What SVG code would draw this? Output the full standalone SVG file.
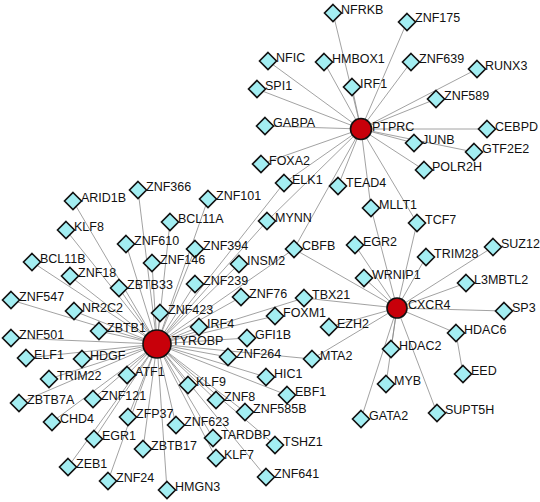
<svg xmlns="http://www.w3.org/2000/svg" xmlns:xlink="http://www.w3.org/1999/xlink" width="540" height="502" viewBox="0 0 540 502">
<style>
.e{stroke:#8a8a8a;stroke-width:0.8;fill:none}
.dm{fill:#a3eef2;stroke:#111;stroke-width:1.6}
.hub{fill:#c8000a;stroke:#111;stroke-width:1.6}
text{font-family:"Liberation Sans",Arial,sans-serif;font-size:12.5px;fill:#111}
</style>
<defs>
<path id="d" class="dm" d="M0,-8.5 L8.5,0 L0,8.5 L-8.5,0 Z"/>
</defs>
<rect width="540" height="502" fill="#fff"/>
<g id="edges">
<!-- PTPRC -->
<line class="e" x1="361" y1="129" x2="333" y2="13"/>
<line class="e" x1="361" y1="129" x2="407" y2="22"/>
<line class="e" x1="361" y1="129" x2="268" y2="61"/>
<line class="e" x1="361" y1="129" x2="324" y2="62"/>
<line class="e" x1="361" y1="129" x2="411" y2="62"/>
<line class="e" x1="361" y1="129" x2="477" y2="69"/>
<line class="e" x1="361" y1="129" x2="257" y2="89"/>
<line class="e" x1="361" y1="129" x2="352" y2="87"/>
<line class="e" x1="361" y1="129" x2="436" y2="99"/>
<line class="e" x1="361" y1="129" x2="265" y2="126"/>
<line class="e" x1="361" y1="129" x2="487" y2="129"/>
<line class="e" x1="361" y1="129" x2="414" y2="143"/>
<line class="e" x1="361" y1="129" x2="474" y2="152"/>
<line class="e" x1="361" y1="129" x2="424" y2="170"/>
<line class="e" x1="361" y1="129" x2="261" y2="164"/>
<line class="e" x1="361" y1="129" x2="284" y2="183"/>
<line class="e" x1="361" y1="129" x2="338" y2="186"/>
<line class="e" x1="361" y1="129" x2="371" y2="208"/>
<line class="e" x1="361" y1="129" x2="417" y2="223"/>
<line class="e" x1="361" y1="129" x2="267" y2="221"/>
<line class="e" x1="361" y1="129" x2="294" y2="249"/>
<!-- CXCR4 -->
<line class="e" x1="397" y1="308" x2="371" y2="208"/>
<line class="e" x1="397" y1="308" x2="417" y2="223"/>
<line class="e" x1="397" y1="308" x2="294" y2="249"/>
<line class="e" x1="397" y1="308" x2="355" y2="245"/>
<line class="e" x1="397" y1="308" x2="364" y2="278"/>
<line class="e" x1="397" y1="308" x2="426" y2="257"/>
<line class="e" x1="397" y1="308" x2="493" y2="247"/>
<line class="e" x1="397" y1="308" x2="466" y2="283"/>
<line class="e" x1="397" y1="308" x2="504" y2="311"/>
<line class="e" x1="397" y1="308" x2="456" y2="333"/>
<line class="e" x1="397" y1="308" x2="391" y2="349"/>
<line class="e" x1="397" y1="308" x2="386" y2="384"/>
<line class="e" x1="397" y1="308" x2="361" y2="419"/>
<line class="e" x1="397" y1="308" x2="437" y2="413"/>
<line class="e" x1="397" y1="308" x2="329" y2="327"/>
<line class="e" x1="397" y1="308" x2="312" y2="359"/>
<line class="e" x1="397" y1="308" x2="304" y2="298"/>
<line class="e" x1="456" y1="333" x2="463" y2="374"/>
<!-- TYROBP -->
<line class="e" x1="157" y1="344" x2="284" y2="183"/>
<line class="e" x1="157" y1="344" x2="267" y2="221"/>
<line class="e" x1="157" y1="344" x2="294" y2="249"/>
<line class="e" x1="157" y1="344" x2="304" y2="298"/>
<line class="e" x1="157" y1="344" x2="275" y2="316"/>
<line class="e" x1="157" y1="344" x2="312" y2="359"/>
<line class="e" x1="157" y1="344" x2="73" y2="201"/>
<line class="e" x1="157" y1="344" x2="138" y2="190"/>
<line class="e" x1="157" y1="344" x2="66" y2="230"/>
<line class="e" x1="157" y1="344" x2="208" y2="199"/>
<line class="e" x1="157" y1="344" x2="170" y2="222"/>
<line class="e" x1="157" y1="344" x2="126" y2="244"/>
<line class="e" x1="157" y1="344" x2="195" y2="249"/>
<line class="e" x1="157" y1="344" x2="152" y2="263"/>
<line class="e" x1="157" y1="344" x2="32" y2="262"/>
<line class="e" x1="157" y1="344" x2="70" y2="276"/>
<line class="e" x1="157" y1="344" x2="119" y2="288"/>
<line class="e" x1="157" y1="344" x2="239" y2="264"/>
<line class="e" x1="157" y1="344" x2="195" y2="284"/>
<line class="e" x1="157" y1="344" x2="11" y2="300"/>
<line class="e" x1="157" y1="344" x2="74" y2="311"/>
<line class="e" x1="157" y1="344" x2="160" y2="313"/>
<line class="e" x1="157" y1="344" x2="241" y2="297"/>
<line class="e" x1="157" y1="344" x2="99" y2="331"/>
<line class="e" x1="157" y1="344" x2="199" y2="327"/>
<line class="e" x1="157" y1="344" x2="11" y2="338"/>
<line class="e" x1="157" y1="344" x2="247" y2="338"/>
<line class="e" x1="157" y1="344" x2="26" y2="358"/>
<line class="e" x1="157" y1="344" x2="82" y2="359"/>
<line class="e" x1="157" y1="344" x2="228" y2="357"/>
<line class="e" x1="157" y1="344" x2="49" y2="379"/>
<line class="e" x1="157" y1="344" x2="127" y2="375"/>
<line class="e" x1="157" y1="344" x2="266" y2="377"/>
<line class="e" x1="157" y1="344" x2="188" y2="385"/>
<line class="e" x1="157" y1="344" x2="19" y2="403"/>
<line class="e" x1="157" y1="344" x2="93" y2="399"/>
<line class="e" x1="157" y1="344" x2="287" y2="395"/>
<line class="e" x1="157" y1="344" x2="216" y2="400"/>
<line class="e" x1="157" y1="344" x2="245" y2="412"/>
<line class="e" x1="157" y1="344" x2="52" y2="422"/>
<line class="e" x1="157" y1="344" x2="128" y2="417"/>
<line class="e" x1="157" y1="344" x2="176" y2="425"/>
<line class="e" x1="157" y1="344" x2="94" y2="439"/>
<line class="e" x1="157" y1="344" x2="213" y2="438"/>
<line class="e" x1="157" y1="344" x2="143" y2="449"/>
<line class="e" x1="157" y1="344" x2="275" y2="445"/>
<line class="e" x1="157" y1="344" x2="216" y2="458"/>
<line class="e" x1="157" y1="344" x2="68" y2="467"/>
<line class="e" x1="157" y1="344" x2="108" y2="481"/>
<line class="e" x1="157" y1="344" x2="167" y2="490"/>
<line class="e" x1="157" y1="344" x2="266" y2="477"/>
</g>
<g id="n-NFRKB"><use xlink:href="#d" x="333" y="13"/><text x="341" y="14">NFRKB</text></g>
<g id="n-ZNF175"><use xlink:href="#d" x="407" y="22"/><text x="415" y="22">ZNF175</text></g>
<g id="n-NFIC"><use xlink:href="#d" x="268" y="61"/><text x="276" y="62">NFIC</text></g>
<g id="n-HMBOX1"><use xlink:href="#d" x="324" y="62"/><text x="332" y="63">HMBOX1</text></g>
<g id="n-ZNF639"><use xlink:href="#d" x="411" y="62"/><text x="419" y="63">ZNF639</text></g>
<g id="n-RUNX3"><use xlink:href="#d" x="477" y="69"/><text x="485" y="70">RUNX3</text></g>
<g id="n-SPI1"><use xlink:href="#d" x="257" y="89"/><text x="265" y="90">SPI1</text></g>
<g id="n-IRF1"><use xlink:href="#d" x="352" y="87"/><text x="360" y="88">IRF1</text></g>
<g id="n-ZNF589"><use xlink:href="#d" x="436" y="99"/><text x="444" y="100">ZNF589</text></g>
<g id="n-GABPA"><use xlink:href="#d" x="265" y="126"/><text x="273" y="127">GABPA</text></g>
<g id="n-CEBPD"><use xlink:href="#d" x="487" y="129"/><text x="495" y="131">CEBPD</text></g>
<g id="n-JUNB"><use xlink:href="#d" x="414" y="143"/><text x="422" y="144">JUNB</text></g>
<g id="n-GTF2E2"><use xlink:href="#d" x="474" y="152"/><text x="482" y="153">GTF2E2</text></g>
<g id="n-POLR2H"><use xlink:href="#d" x="424" y="170"/><text x="432" y="171">POLR2H</text></g>
<g id="n-FOXA2"><use xlink:href="#d" x="261" y="164"/><text x="269" y="165">FOXA2</text></g>
<g id="n-ELK1"><use xlink:href="#d" x="284" y="183"/><text x="292" y="184">ELK1</text></g>
<g id="n-TEAD4"><use xlink:href="#d" x="338" y="186"/><text x="346" y="187">TEAD4</text></g>
<g id="n-MLLT1"><use xlink:href="#d" x="371" y="208"/><text x="379" y="209">MLLT1</text></g>
<g id="n-TCF7"><use xlink:href="#d" x="417" y="223"/><text x="425" y="224">TCF7</text></g>
<g id="n-MYNN"><use xlink:href="#d" x="267" y="221"/><text x="275" y="222">MYNN</text></g>
<g id="n-CBFB"><use xlink:href="#d" x="294" y="249"/><text x="302" y="250">CBFB</text></g>
<g id="n-EGR2"><use xlink:href="#d" x="355" y="245"/><text x="363" y="246">EGR2</text></g>
<g id="n-WRNIP1"><use xlink:href="#d" x="364" y="278"/><text x="372" y="279">WRNIP1</text></g>
<g id="n-TRIM28"><use xlink:href="#d" x="426" y="257"/><text x="434" y="258">TRIM28</text></g>
<g id="n-SUZ12"><use xlink:href="#d" x="493" y="247"/><text x="501" y="248">SUZ12</text></g>
<g id="n-L3MBTL2"><use xlink:href="#d" x="466" y="283"/><text x="474" y="284">L3MBTL2</text></g>
<g id="n-SP3"><use xlink:href="#d" x="504" y="311"/><text x="512" y="312">SP3</text></g>
<g id="n-HDAC6"><use xlink:href="#d" x="456" y="333"/><text x="464" y="334">HDAC6</text></g>
<g id="n-HDAC2"><use xlink:href="#d" x="391" y="349"/><text x="399" y="350">HDAC2</text></g>
<g id="n-EED"><use xlink:href="#d" x="463" y="374"/><text x="471" y="375">EED</text></g>
<g id="n-MYB"><use xlink:href="#d" x="386" y="384"/><text x="394" y="385">MYB</text></g>
<g id="n-GATA2"><use xlink:href="#d" x="361" y="419"/><text x="369" y="420">GATA2</text></g>
<g id="n-SUPT5H"><use xlink:href="#d" x="437" y="413"/><text x="445" y="414">SUPT5H</text></g>
<g id="n-EZH2"><use xlink:href="#d" x="329" y="327"/><text x="337" y="328">EZH2</text></g>
<g id="n-MTA2"><use xlink:href="#d" x="312" y="359"/><text x="320" y="360">MTA2</text></g>
<g id="n-TBX21"><use xlink:href="#d" x="304" y="298"/><text x="312" y="299">TBX21</text></g>
<g id="n-FOXM1"><use xlink:href="#d" x="275" y="316"/><text x="283" y="317">FOXM1</text></g>
<g id="n-ARID1B"><use xlink:href="#d" x="73" y="201"/><text x="81" y="202">ARID1B</text></g>
<g id="n-ZNF366"><use xlink:href="#d" x="138" y="190"/><text x="146" y="191">ZNF366</text></g>
<g id="n-KLF8"><use xlink:href="#d" x="66" y="230"/><text x="74" y="231">KLF8</text></g>
<g id="n-ZNF101"><use xlink:href="#d" x="208" y="199"/><text x="216" y="200">ZNF101</text></g>
<g id="n-BCL11A"><use xlink:href="#d" x="170" y="222"/><text x="178" y="223">BCL11A</text></g>
<g id="n-ZNF610"><use xlink:href="#d" x="126" y="244"/><text x="134" y="245">ZNF610</text></g>
<g id="n-ZNF394"><use xlink:href="#d" x="195" y="249"/><text x="203" y="250">ZNF394</text></g>
<g id="n-ZNF146"><use xlink:href="#d" x="152" y="263"/><text x="160" y="264">ZNF146</text></g>
<g id="n-BCL11B"><use xlink:href="#d" x="32" y="262"/><text x="40" y="263">BCL11B</text></g>
<g id="n-ZNF18"><use xlink:href="#d" x="70" y="276"/><text x="78" y="277">ZNF18</text></g>
<g id="n-ZBTB33"><use xlink:href="#d" x="119" y="288"/><text x="127" y="289">ZBTB33</text></g>
<g id="n-INSM2"><use xlink:href="#d" x="239" y="264"/><text x="247" y="265">INSM2</text></g>
<g id="n-ZNF239"><use xlink:href="#d" x="195" y="284"/><text x="203" y="285">ZNF239</text></g>
<g id="n-ZNF547"><use xlink:href="#d" x="11" y="300"/><text x="19" y="301">ZNF547</text></g>
<g id="n-NR2C2"><use xlink:href="#d" x="74" y="311"/><text x="82" y="312">NR2C2</text></g>
<g id="n-ZNF423"><use xlink:href="#d" x="160" y="313"/><text x="168" y="314">ZNF423</text></g>
<g id="n-ZNF76"><use xlink:href="#d" x="241" y="297"/><text x="249" y="298">ZNF76</text></g>
<g id="n-ZBTB1"><use xlink:href="#d" x="99" y="331"/><text x="107" y="332">ZBTB1</text></g>
<g id="n-IRF4"><use xlink:href="#d" x="199" y="327"/><text x="207" y="328">IRF4</text></g>
<g id="n-ZNF501"><use xlink:href="#d" x="11" y="338"/><text x="19" y="339">ZNF501</text></g>
<g id="n-GFI1B"><use xlink:href="#d" x="247" y="338"/><text x="255" y="339">GFI1B</text></g>
<g id="n-ELF1"><use xlink:href="#d" x="26" y="358"/><text x="34" y="359">ELF1</text></g>
<g id="n-HDGF"><use xlink:href="#d" x="82" y="359"/><text x="90" y="360">HDGF</text></g>
<g id="n-ZNF264"><use xlink:href="#d" x="228" y="357"/><text x="236" y="358">ZNF264</text></g>
<g id="n-TRIM22"><use xlink:href="#d" x="49" y="379"/><text x="57" y="380">TRIM22</text></g>
<g id="n-ATF1"><use xlink:href="#d" x="127" y="375"/><text x="135" y="376">ATF1</text></g>
<g id="n-HIC1"><use xlink:href="#d" x="266" y="377"/><text x="274" y="378">HIC1</text></g>
<g id="n-KLF9"><use xlink:href="#d" x="188" y="385"/><text x="196" y="386">KLF9</text></g>
<g id="n-ZBTB7A"><use xlink:href="#d" x="19" y="403"/><text x="27" y="404">ZBTB7A</text></g>
<g id="n-ZNF121"><use xlink:href="#d" x="93" y="399"/><text x="101" y="400">ZNF121</text></g>
<g id="n-EBF1"><use xlink:href="#d" x="287" y="395"/><text x="295" y="396">EBF1</text></g>
<g id="n-ZNF8"><use xlink:href="#d" x="216" y="400"/><text x="224" y="401">ZNF8</text></g>
<g id="n-ZNF585B"><use xlink:href="#d" x="245" y="412"/><text x="253" y="413">ZNF585B</text></g>
<g id="n-CHD4"><use xlink:href="#d" x="52" y="422"/><text x="60" y="423">CHD4</text></g>
<g id="n-ZFP37"><use xlink:href="#d" x="128" y="417"/><text x="136" y="418">ZFP37</text></g>
<g id="n-ZNF623"><use xlink:href="#d" x="176" y="425"/><text x="184" y="426">ZNF623</text></g>
<g id="n-EGR1"><use xlink:href="#d" x="94" y="439"/><text x="102" y="440">EGR1</text></g>
<g id="n-TARDBP"><use xlink:href="#d" x="213" y="438"/><text x="221" y="439">TARDBP</text></g>
<g id="n-ZBTB17"><use xlink:href="#d" x="143" y="449"/><text x="151" y="450">ZBTB17</text></g>
<g id="n-TSHZ1"><use xlink:href="#d" x="275" y="445"/><text x="283" y="446">TSHZ1</text></g>
<g id="n-KLF7"><use xlink:href="#d" x="216" y="458"/><text x="224" y="459">KLF7</text></g>
<g id="n-ZEB1"><use xlink:href="#d" x="68" y="467"/><text x="76" y="468">ZEB1</text></g>
<g id="n-ZNF24"><use xlink:href="#d" x="108" y="481"/><text x="116" y="482">ZNF24</text></g>
<g id="n-HMGN3"><use xlink:href="#d" x="167" y="490"/><text x="175" y="491">HMGN3</text></g>
<g id="n-ZNF641"><use xlink:href="#d" x="266" y="477"/><text x="274" y="478">ZNF641</text></g>
<g id="n-PTPRC"><circle class="hub" cx="361" cy="129" r="10.5"/><text x="372" y="131">PTPRC</text></g>
<g id="n-CXCR4"><circle class="hub" cx="397" cy="308" r="10"/><text x="408" y="309">CXCR4</text></g>
<g id="n-TYROBP"><circle class="hub" cx="157" cy="344" r="14"/><text x="172" y="345">TYROBP</text></g>
</svg>
